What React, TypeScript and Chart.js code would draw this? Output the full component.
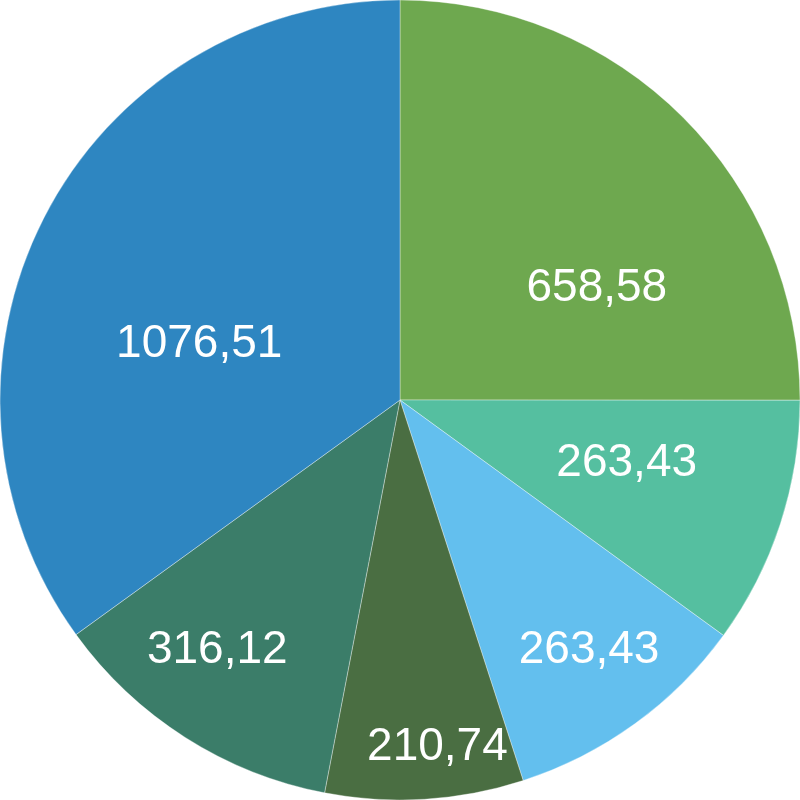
import React, { useEffect, useRef } from "react";
import { Chart, registerables } from "chart.js";

Chart.register(...registerables);

// Categories (no names are shown in the reference)
const categories = ["Slice 1", "Slice 2", "Slice 3", "Slice 4", "Slice 5", "Slice 6"];
// Slice sizes as drawn in the reference (the blue slice spans ~126°)
const sliceValues = [658.58, 263.43, 263.43, 210.74, 316.12, 921.0];
// Value labels as printed in the reference
const valueLabels = ["658,58", "263,43", "263,43", "210,74", "316,12", "1076,51"];
const sliceColors = ["#6ea84f", "#55bfa0", "#63bfee", "#4a6e42", "#3b7d69", "#2e86c1"];

// Label placement: fraction along the slice's angle, fraction of the radius
const labelAlong = [0.663, 0.408, 0.459, 0.407, 0.593, 0.415];
const labelRadius = [0.57, 0.586, 0.778, 0.865, 0.768, 0.523];

const FONT_SIZE = 46;

const valueLabelPlugin = {
  id: "valueLabelPlugin",
  afterDatasetsDraw(chart: any) {
    const { ctx } = chart;
    const meta = chart.getDatasetMeta(0);
    ctx.save();
    ctx.fillStyle = "#ffffff";
    ctx.font = `${FONT_SIZE}px "Liberation Sans", Arial, sans-serif`;
    ctx.textAlign = "center";
    ctx.textBaseline = "alphabetic";
    meta.data.forEach((arc: any, i: number) => {
      const p = arc.getProps(["x", "y", "startAngle", "endAngle", "outerRadius"], true);
      const a = p.startAngle + labelAlong[i] * (p.endAngle - p.startAngle);
      const r = labelRadius[i] * p.outerRadius;
      const x = p.x + r * Math.cos(a);
      const y = p.y + r * Math.sin(a);
      ctx.fillText(valueLabels[i], x, y + FONT_SIZE * 0.35);
    });
    ctx.restore();
  },
};

export default function App() {
  const canvasRef = useRef<HTMLCanvasElement | null>(null);

  useEffect(() => {
    document.body.style.margin = "0";
    const canvas = canvasRef.current;
    if (!canvas) return;
    const chart = new Chart(canvas, {
      type: "pie",
      data: {
        labels: categories,
        datasets: [
          {
            data: sliceValues,
            backgroundColor: sliceColors,
            borderColor: "rgba(255,255,255,0.35)",
            borderWidth: 1,
            hoverOffset: 0,
            offset: 0,
          },
        ],
      },
      options: {
        responsive: false,
        animation: false,
        radius: 400,
        layout: { padding: 0 },
        plugins: {
          legend: { display: false },
          tooltip: { enabled: false },
        },
      } as any,
      plugins: [valueLabelPlugin],
    });
    return () => chart.destroy();
  }, []);

  return (
    <div style={{ position: "fixed", left: 0, top: 0, width: 800, height: 800, background: "#ffffff" }}>
      <canvas ref={canvasRef} width={800} height={800} style={{ width: 800, height: 800, display: "block" }} />
    </div>
  );
}
